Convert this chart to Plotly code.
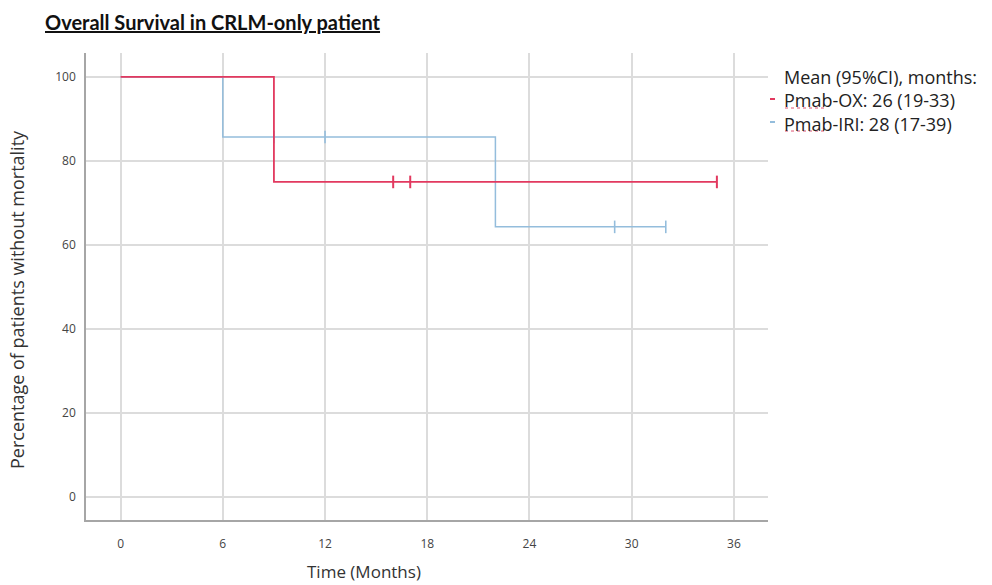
import plotly.graph_objects as go

# Data
ox_times = [0, 9, 35]
ox_surv = [100, 75, 75]
ox_cens_t = [16, 17, 35]
ox_cens_s = [75, 75, 75]

iri_times = [0, 6, 22, 32]
iri_surv = [100, 85.7, 64.3, 64.3]
iri_cens_t = [9, 12, 29, 32]
iri_cens_s = [85.7, 85.7, 64.3, 64.3]

x_ticks = [0, 6, 12, 18, 24, 30, 36]
y_ticks = [0, 20, 40, 60, 80, 100]

legend_title = "Mean (95%CI), months:"
legend_labels = ["Pmab-OX: 26 (19-33)", "Pmab-IRI: 28 (17-39)"]

RED = "#e2395f"
BLUE = "#94bddc"

W, H = 992, 585
L, R, T, B = 86, 992 - 768, 53, 585 - 520
PW, PH = W - L - R, H - T - B


def px(xp):  # reference pixel x -> paper
    return (xp - L) / PW


def py(yp):  # reference pixel y -> paper
    return (H - B - yp) / PH


fig = go.Figure()
fig.add_trace(go.Scatter(x=iri_times, y=iri_surv, mode="lines", line=dict(color=BLUE, width=1.5, shape="hv"), showlegend=False))
fig.add_trace(go.Scatter(x=iri_cens_t, y=iri_cens_s, mode="markers",
                         marker=dict(symbol="line-ns", size=9, line=dict(color=BLUE, width=1.6)), showlegend=False))
fig.add_trace(go.Scatter(x=ox_times, y=ox_surv, mode="lines", line=dict(color=RED, width=1.8, shape="hv"), showlegend=False))
fig.add_trace(go.Scatter(x=ox_cens_t, y=ox_cens_s, mode="markers",
                         marker=dict(symbol="line-ns", size=9, line=dict(color=RED, width=2)), showlegend=False))

fig.update_layout(
    width=W, height=H,
    margin=dict(l=L, r=R, t=T, b=B),
    paper_bgcolor="white", plot_bgcolor="white",
    font=dict(family="Open Sans", color="#333333"),
    showlegend=False,
)
fig.update_xaxes(range=[-2.03, 38.0], tickvals=x_ticks, showgrid=True, gridcolor="#dcdcdc", gridwidth=1.5,
                 zeroline=False, showline=True, linecolor="#a6a6a6", linewidth=1.5, automargin=False,
                 tickfont=dict(size=12, color="#444444", family="Open Sans"), ticks="", ticklabelstandoff=12)
fig.update_yaxes(range=[-5.5, 105.7], tickvals=y_ticks, showgrid=True, gridcolor="#dcdcdc", gridwidth=1.5,
                 zeroline=False, showline=True, linecolor="#a6a6a6", linewidth=1.5, automargin=False,
                 tickfont=dict(size=12, color="#444444", family="Open Sans"), ticks="", ticklabelstandoff=6)

# Axis titles
fig.add_annotation(text="Time (Months)", xref="paper", yref="paper", x=px(364), y=py(571),
                   xanchor="center", yanchor="middle", showarrow=False,
                   font=dict(size=17, color="#333333", family="Open Sans"))
fig.add_annotation(text="Percentage of patients without mortality", xref="paper", yref="paper",
                   x=px(17), y=py(300), textangle=-90,
                   xanchor="center", yanchor="middle", showarrow=False,
                   font=dict(size=18, color="#333333", family="Open Sans"))

# Title
fig.add_annotation(text="<b><u>Overall Survival in CRLM-only patient</u></b>", xref="paper", yref="paper",
                   x=px(43), y=py(22), xanchor="left", yanchor="middle", showarrow=False,
                   font=dict(size=20, color="#111111", family="Lato"))

# Legend text (one block, three lines)
fig.add_annotation(text="<br>".join([legend_title] + legend_labels), xref="paper", yref="paper",
                   x=px(783), y=py(64), xanchor="left", yanchor="top", align="left", borderpad=0,
                   showarrow=False, font=dict(size=18, color="#222222", family="Open Sans"))
# legend dashes and spell-check squiggles
for i, col in enumerate([RED, BLUE]):
    yl = 99 + i * 23
    fig.add_shape(type="line", xref="paper", yref="paper", x0=px(770), x1=px(775), y0=py(yl), y1=py(yl),
                  line=dict(color=col, width=2))
    fig.add_shape(type="line", xref="paper", yref="paper", x0=px(785), x1=px(826), y0=py(yl + 9), y1=py(yl + 9),
                  line=dict(color="#e05070", width=1, dash="dot"))

fig.write_html("out.html", config={"displayModeBar": False},
               post_script="document.body.style.margin='0';")
